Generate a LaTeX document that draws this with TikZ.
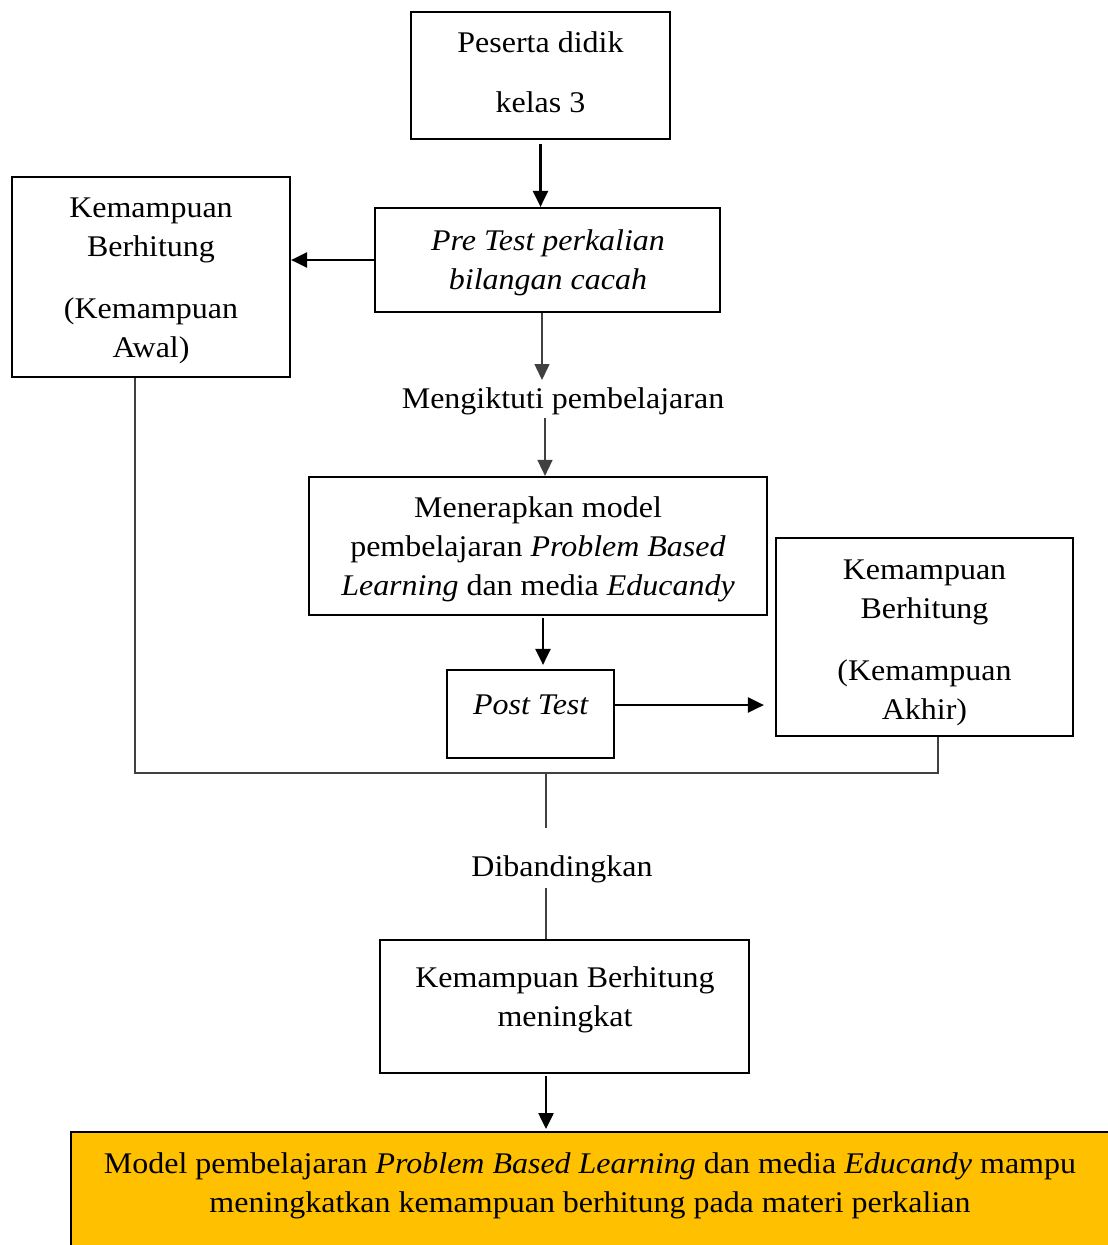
\documentclass[tikz,border=0pt]{standalone}
\usepackage{fontspec}
\setmainfont[FakeStretch=1.066]{Liberation Serif}
\usetikzlibrary{arrows.meta}
\definecolor{gold}{HTML}{FFC000}
\definecolor{thing}{HTML}{404040}
\begin{document}
\begin{tikzpicture}[x=1pt,y=-1pt,
  every node/.style={font=\fontsize{30}{39}\selectfont, align=center},
  box/.style={draw, line width=2.2pt, inner sep=0pt},
  tip/.style={-{Triangle[length=16pt,width=15pt]}},
  thickarr/.style={tip, line width=2.5pt},
  thinarr/.style={tip, line width=1.5pt, draw=thing, fill=thing},
  thinline/.style={line width=1.2pt, draw=thing}]
\useasboundingbox (0,0) rectangle (1108,1245);

% boxes and texts
\node[box, minimum width=259, minimum height=127] (peserta) at (540.5,75.5) {};
\node (pesertatxt) at (540.5,72) {Peserta didik\\[21pt]kelas 3};
\node[box, minimum width=345, minimum height=104] (pre) at (547.5,260) {};
\node (pretxt) at (548,263) {\textit{Pre Test perkalian}\\\textit{bilangan cacah}};
\node[box, minimum width=278, minimum height=200] (awal) at (151,277) {};
\node (awaltxt) at (151,281) {Kemampuan\\Berhitung\\[23pt](Kemampuan\\Awal)};
\node (ikut) at (563,401) {Mengiktuti pembelajaran};
\node[box, minimum width=458, minimum height=138] (terap) at (538,546) {};
\node (teraptxt) at (538,549.5) {Menerapkan model\\pembelajaran \textit{Problem Based}\\\textit{Learning} dan media \textit{Educandy}};
\node[box, minimum width=167, minimum height=88] (post) at (530.5,714) {};
\node (posttxt) at (531,705) {\textit{Post Test}};
\node[box, minimum width=297, minimum height=198] (akhir) at (924.5,637) {};
\node (akhirtxt) at (924.5,642.5) {Kemampuan\\Berhitung\\[23pt](Kemampuan\\Akhir)};
\node (banding) at (562,869) {Dibandingkan};
\node[box, minimum width=369, minimum height=133] (naik) at (564.5,1006.5) {};
\node (naiktxt) at (565,1000) {Kemampuan Berhitung\\meningkat};
\node[box, fill=gold, minimum width=1060, minimum height=140, anchor=north west] (hasil) at (70,1131) {};
\node (hasiltxt) at (590,1186) {Model pembelajaran \textit{Problem Based Learning} dan media \textit{Educandy} mampu\\meningkatkan kemampuan berhitung pada materi perkalian};

% column coordinates
\coordinate (colA) at (542,0);
\coordinate (colB) at (545,0);
\coordinate (colC) at (543,0);
\coordinate (colD) at (546,0);
\coordinate (bl) at (135,773);
\coordinate (br) at (938,773);
\coordinate (j) at (546,773);
\coordinate (j2) at (546,828);
\coordinate (j3) at (546,888);
\coordinate (ikuttop) at (0,380);
\coordinate (ikutbot) at (0,418);

% connectors
\draw[thickarr, shorten <=4pt] (peserta.south) -- (pre.north -| peserta.south);
\draw[thickarr] (pre.west) -- (awal.east |- pre.west);
\draw[thinarr] (pre.south -| colA) -- (colA |- ikuttop);
\draw[thinarr] (colB |- ikutbot) -- (terap.north -| colB);
\draw[thickarr, shorten <=2pt, shorten >=4pt] (terap.south -| colC) -- (post.north -| colC);
\draw[thickarr] (post.east |- posttxt) -- ([xshift=-11pt]akhir.west |- posttxt);
\draw[thinline] (awal.south -| bl) -- (bl) -- (br) -- (akhir.south -| br);
\draw[thinline] (j) -- (j2);
\draw[thinline] (j3) -- (naik.north -| j3);
\draw[thickarr, shorten <=2pt, shorten >=2pt] (naik.south -| colD) -- (hasil.north -| colD);
\end{tikzpicture}
\end{document}
